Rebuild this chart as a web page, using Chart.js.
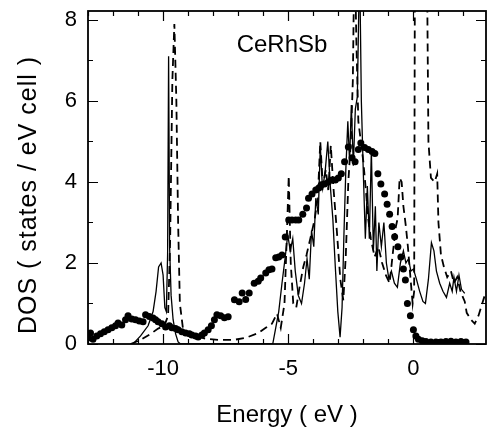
<!DOCTYPE html>
<html>
<head>
<meta charset="utf-8">
<script src="https://cdn.jsdelivr.net/npm/chart.js@4.4.1/dist/chart.umd.min.js"></script>
<style>
  html, body { margin: 0; padding: 0; background: #fff; }
  #wrap { width: 490px; height: 430px; position: relative; }
</style>
</head>
<body>
<div id="wrap"><canvas id="c" width="490" height="430"></canvas></div>
<script>
// ---- Data ----
const chartTitle = "CeRhSb";
const xAxisTitle = "Energy ( eV )";
const yAxisTitle = "DOS ( states / eV cell )";
const xTickLabels = [-10, -5, 0];
const yTickLabels = [0, 2, 4, 6, 8];
const xRange = [-13, 2.9];
const yRange = [0, 8.22];

// solid line (calculation 1)
const solidE = [-11.2, -10.9, -10.6, -10.4, -10.28, -10.18, -10.08, -10.0, -9.93, -9.87, -9.82, -9.78, -9.74, -9.68, -9.6, -9.5, -9.4, -9.3,
  -5.62, -5.5, -5.38, -5.25, -5.12, -5.02, -4.92, -4.82, -4.72, -4.6, -4.47, -4.35, -4.25, -4.16, -4.07, -3.98, -3.9, -3.8, -3.72, -3.63,
  -3.52, -3.42, -3.32, -3.22, -3.12, -3.02, -2.93, -2.85, -2.78, -2.7, -2.62, -2.55, -2.48, -2.4, -2.32, -2.24, -2.15, -2.08, -2.0,
  -1.92, -1.84, -1.76, -1.68, -1.6, -1.52, -1.46, -1.38, -1.28, -1.18, -1.08, -0.98, -0.88, -0.76, -0.64, -0.52, -0.4, -0.3, -0.2, -0.1,
  0.0, 0.12, 0.25, 0.38, 0.48, 0.6, 0.72, 0.82, 0.92, 1.05, 1.18, 1.32, 1.45, 1.55, 1.62, 1.72, 1.82, 1.92, 2.05];
const solidDOS = [0, 0.2, 0.45, 0.8, 1.3, 1.9, 2.0, 1.7, 0.9, 0.8, 2.2, 7.1, 2.4, 1.2, 0.6, 0.25, 0.05, 0,
  0, 0.4, 0.8, 1.5, 2.15, 2.7, 2.3, 2.6, 1.8, 1.2, 1.0, 1.5, 2.1, 1.6, 2.8, 2.4, 3.6, 3.2, 4.9, 3.8,
  4.3, 5.0, 3.9, 3.1, 1.9, 0.8, 0.17, 0.9, 2.6, 4.3, 5.5, 4.5, 5.9, 4.4, 5.8, 6.1, 9.5, 6.0, 4.2,
  2.6, 3.9, 2.6, 4.8, 2.3, 3.4, 1.8, 3.0, 2.4, 3.0, 2.0, 1.6, 1.8, 1.5, 1.4, 2.0, 2.3, 2.0, 2.1, 1.8,
  1.85, 1.6, 1.3, 1.05, 1.0, 1.6, 2.5, 2.3, 1.8, 1.5, 1.3, 1.15, 1.5, 1.3, 1.65, 1.3, 1.7, 1.35, 1.25];

// dashed line (calculation 2)
const dashedE = [-11.3, -10.9, -10.5, -10.2, -9.95, -9.8, -9.72, -9.63, -9.55, -9.47, -9.4, -9.33, -9.2, -8.8, -8.3, -7.8, -7.2, -6.7,
  -6.2, -5.9, -5.65, -5.45, -5.3, -5.15, -5.05, -4.98, -4.9, -4.8, -4.68, -4.55, -4.4, -4.27, -4.12, -3.95, -3.82, -3.72, -3.62, -3.5,
  -3.4, -3.3, -3.2, -3.06, -2.92, -2.8, -2.7, -2.6, -2.5, -2.42, -2.35, -2.28, -2.2, -2.1, -2.0, -1.9, -1.8, -1.7, -1.55, -1.4, -1.25,
  -1.1, -0.95, -0.83, -0.7, -0.63, -0.55, -0.47, -0.4, -0.3, -0.22, -0.12, -0.03, 0.03, 0.06, 0.3, 0.54, 0.6, 0.7, 0.85, 0.95, 1.0,
  1.1, 1.22, 1.35, 1.5, 1.62, 1.75, 1.88, 1.98, 2.05, 2.13, 2.3, 2.45, 2.6, 2.75, 2.9];
const dashedDOS = [0, 0.1, 0.25, 0.38, 0.45, 0.7, 2.5, 6.5, 7.9, 6.0, 3.0, 1.0, 0.35, 0.22, 0.13, 0.1, 0.1, 0.15,
  0.27, 0.4, 0.5, 0.75, 0.4, 1.0, 2.8, 4.15, 2.0, 1.0, 0.9, 1.4, 1.9, 2.2, 2.6, 3.06, 3.6, 5.0, 3.9, 4.3,
  3.8, 4.9, 3.9, 2.8, 1.6, 1.08, 2.2, 4.0, 5.0, 6.5, 10, 7.5, 5.5, 5.0, 4.5, 3.8, 3.06, 2.6, 2.15, 2.4, 2.0,
  1.7, 1.5, 2.2, 2.9, 3.1, 4.1, 4.0, 3.4, 2.9, 2.4, 1.65, 1.0, 1.3, 9.5, 11, 9.5, 5.0, 4.1, 4.0, 4.2, 3.0,
  2.2, 1.9, 1.65, 1.8, 1.5, 1.65, 1.3, 1.15, 1.05, 0.77, 0.6, 0.5, 0.7, 1.0, 1.3];

// dots (experiment)
const dotE = [-13.0, -12.9, -12.8, -12.65, -12.5, -12.35, -12.2, -12.05, -11.9, -11.8, -11.65, -11.5, -11.4, -11.25, -11.1, -10.95,
  -10.8, -10.7, -10.55, -10.4, -10.3, -10.2, -10.05, -9.9, -9.75, -9.65, -9.5, -9.4, -9.25, -9.1, -8.95, -8.85, -8.7, -8.6, -8.45,
  -8.35, -8.2, -8.07, -7.95, -7.85, -7.7, -7.55, -7.4, -7.15, -6.96, -6.84, -6.7, -6.56, -6.36, -6.2, -6.1, -5.9, -5.77, -5.65, -5.5,
  -5.38, -5.25, -5.12, -4.98, -4.85, -4.7, -4.58, -4.42, -4.27, -4.19, -4.05, -3.9, -3.78, -3.68, -3.55, -3.4, -3.25, -3.12, -3.0,
  -2.88, -2.75, -2.6, -2.45, -2.33, -2.2, -2.1, -1.95, -1.8, -1.65, -1.54, -1.42, -1.3, -1.15, -1.05, -0.95, -0.85, -0.75, -0.62,
  -0.5, -0.4, -0.32, -0.24, -0.12, 0.0, 0.1, 0.2, 0.35, 0.5, 0.7, 0.9, 1.1, 1.3, 1.5, 1.7, 1.9, 2.1];
const dotDOS = [0.15, 0.27, 0.12, 0.2, 0.25, 0.3, 0.35, 0.4, 0.45, 0.52, 0.47, 0.6, 0.7, 0.62, 0.6, 0.57,
  0.55, 0.72, 0.68, 0.64, 0.6, 0.55, 0.5, 0.42, 0.45, 0.4, 0.38, 0.35, 0.3, 0.27, 0.25, 0.22, 0.2, 0.17, 0.22,
  0.27, 0.35, 0.45, 0.6, 0.72, 0.7, 0.65, 0.67, 1.09, 1.04, 1.26, 1.1, 1.26, 1.5, 1.55, 1.63, 1.75, 1.83, 1.85, 2.13,
  2.15, 2.2, 2.64, 3.06, 3.06, 3.06, 3.06, 3.2, 3.36, 3.6, 3.7, 3.8, 3.85, 3.93, 3.95, 4.0, 4.05, 4.05, 4.1,
  4.2, 4.5, 4.86, 4.6, 4.5, 4.8, 4.96, 4.85, 4.8, 4.75, 4.7, 4.2, 3.95, 3.7, 3.45, 3.2, 2.9, 2.65, 2.4,
  2.15, 1.85, 1.58, 1.0, 0.7, 0.35, 0.2, 0.12, 0.08, 0.06, 0.05, 0.05, 0.05, 0.06, 0.07, 0.05, 0.06, 0.05];

// ---- Build ----
const pts = (xs, ys) => xs.map((x, i) => ({ x: x, y: ys[i] }));
const FONT = "'Liberation Sans', Arial, Helvetica, sans-serif";

const frameTicks = {
  id: 'frameTicks',
  afterDatasetsDraw(chart) {
    const { ctx, chartArea: a, scales: { x, y } } = chart;
    ctx.save();
    ctx.strokeStyle = '#000';
    ctx.lineWidth = 1.2;
    ctx.beginPath();
    for (let v = Math.ceil(x.min); v <= x.max; v++) {
      const px = Math.round(x.getPixelForValue(v)) + 0.5;
      const len = (v % 5 === 0) ? 10 : 5;
      ctx.moveTo(px, a.bottom); ctx.lineTo(px, a.bottom - len);
      ctx.moveTo(px, a.top); ctx.lineTo(px, a.top + len);
    }
    for (let v = Math.ceil(y.min); v <= y.max; v++) {
      const py = Math.round(y.getPixelForValue(v)) + 0.5;
      const len = (v % 2 === 0) ? 10 : 5;
      ctx.moveTo(a.left, py); ctx.lineTo(a.left + len, py);
      ctx.moveTo(a.right, py); ctx.lineTo(a.right - len, py);
    }
    ctx.stroke();
    ctx.lineWidth = 1.8;
    ctx.strokeRect(a.left, a.top, a.right - a.left, a.bottom - a.top);
    ctx.fillStyle = '#000';
    // chart title inside plot
    ctx.font = '24px ' + FONT;
    ctx.textAlign = 'center';
    ctx.textBaseline = 'alphabetic';
    ctx.fillText(chartTitle, x.getPixelForValue(-5.25), a.top + 41);
    // y axis title (rotated)
    ctx.save();
    ctx.translate(29, 195);
    ctx.rotate(-Math.PI / 2);
    ctx.font = '25px ' + FONT;
    ctx.letterSpacing = '1px';
    ctx.textBaseline = 'middle';
    ctx.fillText(yAxisTitle, 0, 0);
    ctx.restore();
    ctx.restore();
  }
};

new Chart(document.getElementById('c'), {
  type: 'scatter',
  data: {
    datasets: [
      {
        label: 'experiment',
        data: pts(dotE, dotDOS),
        showLine: false,
        pointRadius: 3.5,
        pointBackgroundColor: '#000',
        pointBorderColor: '#000',
        pointBorderWidth: 0,
        order: 0
      },
      {
        label: 'solid',
        data: pts(solidE, solidDOS),
        showLine: true,
        borderColor: '#000',
        borderWidth: 1.3,
        pointRadius: 0,
        tension: 0,
        order: 1
      },
      {
        label: 'dashed',
        data: pts(dashedE, dashedDOS),
        showLine: true,
        borderColor: '#000',
        borderWidth: 1.8,
        borderDash: [8, 5],
        pointRadius: 0,
        tension: 0,
        order: 2
      }
    ]
  },
  options: {
    responsive: false,
    animation: false,
    layout: { padding: { top: 11, right: 1, left: 0, bottom: 0 } },
    plugins: { legend: { display: false }, tooltip: { enabled: false } },
    scales: {
      x: {
        type: 'linear',
        min: xRange[0], max: xRange[1],
        grid: { display: false, drawTicks: false },
        border: { display: false },
        afterBuildTicks: (s) => { s.ticks = xTickLabels.map(v => ({ value: v })); },
        afterFit: (s) => { s.height = 86; s.paddingLeft = 0; s.paddingRight = 0; },
        ticks: { color: '#000', padding: 12, font: { family: FONT, size: 22 }, maxRotation: 0, callback: (v) => String(v) },
        title: { display: true, text: xAxisTitle, color: '#000', font: { family: FONT, size: 24 }, padding: { top: 0, bottom: 0 } }
      },
      y: {
        type: 'linear',
        min: yRange[0], max: yRange[1],
        grid: { display: false, drawTicks: false },
        border: { display: false },
        afterBuildTicks: (s) => { s.ticks = yTickLabels.map(v => ({ value: v })); },
        afterFit: (s) => { s.width = 88; s.paddingTop = 0; s.paddingBottom = 0; },
        ticks: { color: '#000', padding: 11, font: { family: FONT, size: 22 }, callback: (v) => String(v) },
        title: { display: false, text: yAxisTitle }
      }
    }
  },
  plugins: [frameTicks]
});
</script>
</body>
</html>
